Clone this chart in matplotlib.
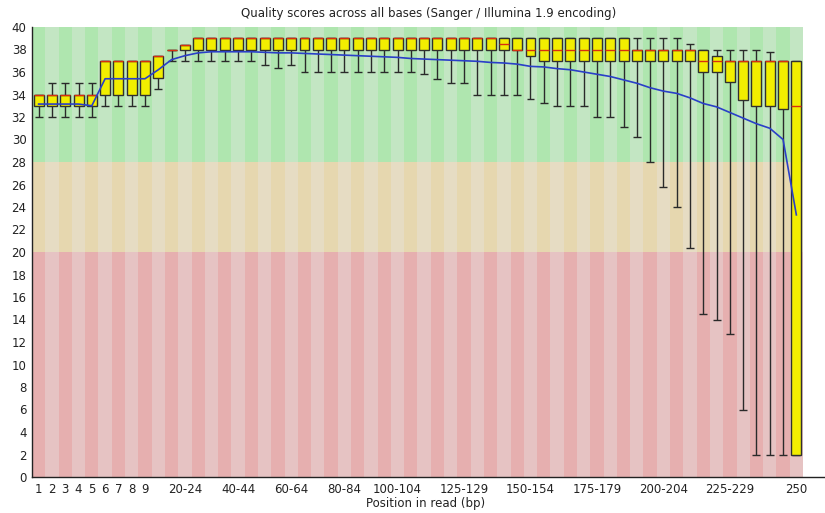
import matplotlib
matplotlib.use("Agg")
import matplotlib.pyplot as plt
from matplotlib.patches import Rectangle

# ---------------- data ----------------
categories = ["1", "2", "3", "4", "5", "6", "7", "8", "9",
              "10-14", "15-19", "20-24", "25-29", "30-34", "35-39", "40-44",
              "45-49", "50-54", "55-59", "60-64", "65-69", "70-74", "75-79",
              "80-84", "85-89", "90-94", "95-99", "100-104", "105-109",
              "110-114", "115-119", "120-124", "125-129", "130-134", "135-139",
              "140-144", "145-149", "150-154", "155-159", "160-164", "165-169",
              "170-174", "175-179", "180-184", "185-189", "190-194", "195-199",
              "200-204", "205-209", "210-214", "215-219", "220-224", "225-229",
              "230-234", "235-239", "240-244", "245-249", "250"]

shown_ticks = ["1", "2", "3", "4", "5", "6", "7", "8", "9", "20-24", "40-44",
               "60-64", "80-84", "100-104", "125-129", "150-154", "175-179",
               "200-204", "225-229", "250"]

q1 = [33, 33, 33, 33, 33, 34, 34, 34, 34, 35.5, 38, 38,
      38, 38, 38, 38, 38, 38, 38, 38, 38, 38, 38, 38, 38, 38, 38, 38, 38,
      38, 38, 38, 38, 38, 38, 38, 38, 37.4, 37, 37, 37, 37, 37, 37, 37,
      37, 37, 37, 37, 37, 36, 36, 35.1, 33.5, 33, 33, 32.7, 2]

q3 = [34, 34, 34, 34, 34, 37, 37, 37, 37, 37.4, 38, 38.4,
      39, 39, 39, 39, 39, 39, 39, 39, 39, 39, 39, 39, 39, 39, 39, 39, 39,
      39, 39, 39, 39, 39, 39, 39, 39, 39, 39, 39, 39, 39, 39, 39, 39,
      38, 38, 38, 38, 38, 38, 37.4, 37, 37, 37, 37, 37, 37]

median = [34, 34, 34, 34, 34, 37, 37, 37, 37, 37.4, 38, 38.4,
          39, 39, 39, 39, 39, 39, 39, 39, 39, 39, 39, 39, 39, 39, 39, 39, 39,
          39, 39, 39, 39, 39, 39, 38.5, 38, 38, 38, 38, 38, 38, 38, 38, 38,
          38, 38, 38, 38, 38, 37, 37, 37, 37, 37, 37, 37, 33]

lower = [32, 32, 32, 32, 32, 33, 33, 33, 33, 34.5, 37, 37,
         37, 37, 37, 37, 37, 36.6, 36.4, 36.6, 36, 36, 36, 36, 36, 36, 36,
         36, 36, 35.8, 35.4, 35, 35, 34, 34, 34, 34, 33.6, 33.2, 33, 33, 33,
         32, 32, 31.1, 30.2, 28, 25.8, 24, 20.4, 14.5, 14, 12.7, 6, 2, 2, 2, 2]

upper = [34, 35, 35, 35, 35, 37, 37, 37, 37, 37.4, 38, 38.4,
         39, 39, 39, 39, 39, 39, 39, 39, 39, 39, 39, 39, 39, 39, 39, 39, 39,
         39, 39, 39, 39, 39, 39, 39, 39, 39, 39, 39, 39, 39, 39, 39, 39,
         39, 39, 39, 39, 38.5, 38, 38, 38, 38, 38, 37.75, 37, 37]

mean = [33.15, 33.15, 33.15, 33.15, 33.0, 35.4, 35.4, 35.4, 35.4, 36.2,
        37.1, 37.45, 37.7, 37.8, 37.8, 37.8, 37.8, 37.75, 37.7, 37.7, 37.65,
        37.6, 37.55, 37.5, 37.45, 37.4, 37.35, 37.3, 37.2, 37.15, 37.1,
        37.05, 37.0, 36.95, 36.85, 36.8, 36.7, 36.5, 36.45, 36.3, 36.2, 36.0,
        35.8, 35.6, 35.3, 35.0, 34.6, 34.3, 34.1, 33.7, 33.2, 32.9, 32.4,
        31.9, 31.4, 31.0, 30.0, 23.3]

title = "Quality scores across all bases (Sanger / Illumina 1.9 encoding)"
xlabel = "Position in read (bp)"

# ---------------- figure ----------------
W, H = 825, 513
fig = plt.figure(figsize=(W / 100, H / 100), dpi=100)
ax_left, ax_right, ax_top, ax_bottom = 32, 825, 27, 477
ax = fig.add_axes([ax_left / W, 1 - ax_bottom / H,
                   (ax_right - ax_left) / W, (ax_bottom - ax_top) / H])

n = len(categories)
xs = list(range(n))
cat_px = 771 / n
ax.set_xlim(-0.5, -0.5 + (ax_right - ax_left) / cat_px)
ax.set_ylim(0, 40)

bands = [(0, 20, "#e6c3c3", "#e6afaf"),
         (20, 28, "#e6dcc3", "#e6d7af"),
         (28, 40, "#c3e6c3", "#afe6af")]
for lo, hi, light, dark in bands:
    for i in xs:
        ax.add_patch(Rectangle((i - 0.5, lo), 1, hi - lo,
                               facecolor=dark if i % 2 == 0 else light,
                               edgecolor="none", zorder=0))

wc = "#2a2a2a"
bw = 0.75
cw = 0.6
ax.vlines(xs, lower, q1, color=wc, lw=1.0, zorder=2)
ax.vlines(xs, q3, upper, color=wc, lw=1.0, zorder=2)
ax.hlines(lower, [x - cw / 2 for x in xs], [x + cw / 2 for x in xs],
          color=wc, lw=1.0, zorder=2)
ax.hlines(upper, [x - cw / 2 for x in xs], [x + cw / 2 for x in xs],
          color=wc, lw=1.0, zorder=2)
heights = [b - a for a, b in zip(q1, q3)]
ax.bar(xs, heights, bottom=q1, width=bw, color="#f2ee00",
       edgecolor="#303030", linewidth=1.0, zorder=3)
ax.hlines(median, [x - bw / 2 for x in xs], [x + bw / 2 for x in xs],
          color="#d83010", lw=1.0, zorder=4)
ax.plot(xs, mean, color="#2a3fc8", lw=1.2, zorder=5)

for s in ["top", "right"]:
    ax.spines[s].set_visible(False)
for s in ["left", "bottom"]:
    ax.spines[s].set_linewidth(1.0)
    ax.spines[s].set_color("#222222")

ax.set_yticks(range(0, 41, 2))
ax.set_yticklabels([str(v) for v in range(0, 41, 2)])
tick_pos = [categories.index(t) for t in shown_ticks]
ax.set_xticks(tick_pos)
ax.set_xticklabels(shown_ticks)
ax.tick_params(axis="both", length=0, labelsize=8.5, colors="#222222")
ax.tick_params(axis="y", pad=4)
ax.tick_params(axis="x", pad=4)

fig.text(428.5 / W, 1 - 14 / H, title, ha="center", va="center",
         fontsize=8.5, color="#222222")
fig.text(426 / W, 1 - 503 / H, xlabel, ha="center", va="center",
         fontsize=8.5, color="#222222")

fig.savefig("out.png", dpi=100)
